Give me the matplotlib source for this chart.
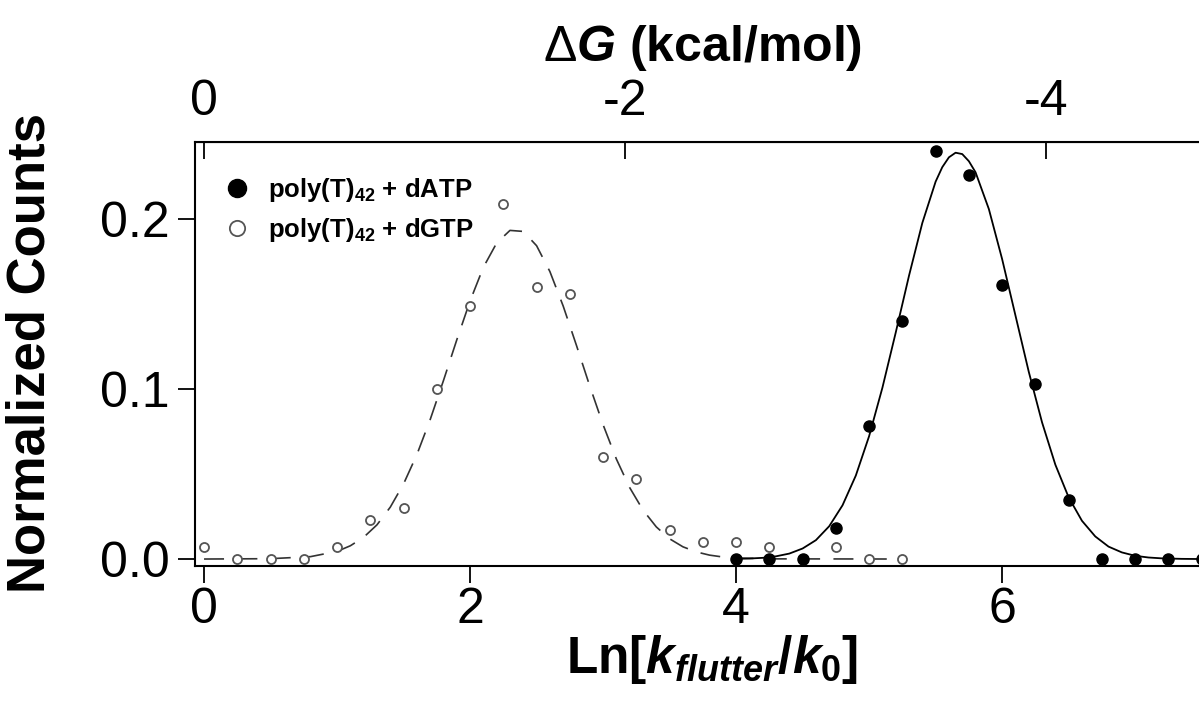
import matplotlib
matplotlib.use("Agg")
import matplotlib.pyplot as plt
from matplotlib.lines import Line2D

plt.rcParams['font.family'] = ['Liberation Sans', 'DejaVu Sans']
plt.rcParams['mathtext.fontset'] = 'custom'
plt.rcParams['mathtext.rm'] = 'Liberation Sans:bold'
plt.rcParams['mathtext.it'] = 'Liberation Sans:bold:italic'
plt.rcParams['mathtext.sf'] = 'Liberation Sans'

# histogram points (ln(k_flutter/k0), normalized counts)
datp_x = [4.0, 4.25, 4.5, 4.75, 5.0, 5.25, 5.5, 5.75, 6.0, 6.25, 6.5, 6.75, 7.0, 7.25, 7.5]
datp_y = [0.0, 0.0, 0.0, 0.018, 0.078, 0.140, 0.240, 0.226, 0.161, 0.103, 0.035, 0.0, 0.0, 0.0, 0.0]

dgtp_x = [0.0, 0.25, 0.5, 0.75, 1.0, 1.25, 1.5, 1.75, 2.0, 2.25, 2.5, 2.75, 3.0, 3.25,
          3.5, 3.75, 4.0, 4.25, 4.5, 4.75, 5.0, 5.25]
dgtp_y = [0.007, 0.0, 0.0, 0.0, 0.007, 0.023, 0.030, 0.100, 0.149, 0.209, 0.160, 0.156,
          0.060, 0.047, 0.017, 0.010, 0.010, 0.007, 0.0, 0.007, 0.0, 0.0]

# fit curves
datp_fit_x = [4.0, 4.1, 4.2, 4.3, 4.4, 4.5, 4.6, 4.7, 4.8, 4.9, 5.0, 5.1, 5.2, 5.3, 5.4,
              5.5, 5.55, 5.6, 5.65, 5.7, 5.75, 5.8, 5.9, 6.0, 6.1, 6.2, 6.3, 6.4, 6.5,
              6.6, 6.7, 6.8, 6.9, 7.0, 7.1, 7.2, 7.35, 7.5]
datp_fit_y = [0.0001, 0.0003, 0.0007, 0.0016, 0.0032, 0.0062, 0.0111, 0.0193, 0.0316,
              0.0491, 0.0723, 0.1008, 0.1332, 0.1667, 0.1977, 0.2220, 0.2305, 0.2363,
              0.2390, 0.2382, 0.2340, 0.2275, 0.2059, 0.1764, 0.1433, 0.1102, 0.0804,
              0.0555, 0.0363, 0.0225, 0.0133, 0.0073, 0.0039, 0.0019, 0.0009, 0.0004,
              0.0001, 0.0]

dgtp_fit_x = [0.0, 0.5, 0.8, 1.0, 1.1, 1.2, 1.3, 1.4, 1.5, 1.6, 1.7, 1.8, 1.9, 2.0, 2.1,
              2.2, 2.3, 2.4, 2.5, 2.6, 2.7, 2.8, 2.9, 3.0, 3.1, 3.2, 3.3, 3.4, 3.5, 3.6,
              3.7, 3.8, 3.9, 4.0, 4.3, 5.25]
dgtp_fit_y = [0.0, 0.0002, 0.0014, 0.0045, 0.0078, 0.0128, 0.0201, 0.0305, 0.0442, 0.0614,
              0.0820, 0.1050, 0.1289, 0.1518, 0.1716, 0.1859, 0.1933, 0.1927, 0.1843,
              0.1691, 0.1488, 0.1256, 0.1017, 0.0790, 0.0588, 0.0420, 0.0288, 0.0189,
              0.0119, 0.0072, 0.0042, 0.0023, 0.0012, 0.0006, 0.0001, 0.0]

kt = 0.632  # kcal/mol per ln unit

fig = plt.figure(figsize=(11.99, 7.13), dpi=100)
ax = fig.add_axes([195 / 1199, 1 - 566 / 713, 1 - 195 / 1199, (566 - 142) / 713])

fit2, = ax.plot(dgtp_fit_x, dgtp_fit_y, color='#333333', lw=1.2, zorder=2)
fit2.set_dashes((12, 8))
ax.plot(datp_fit_x, datp_fit_y, color='black', lw=1.3, zorder=2)
ax.plot(dgtp_x, dgtp_y, 'o', ms=6.5, mfc='white', mec='#555555', mew=1.3, zorder=3)
ax.plot(datp_x, datp_y, 'o', ms=8, mfc='black', mec='black', zorder=4)

ax.set_xlim(-0.068, 7.48)
ax.set_ylim(-0.0041, 0.2453)
ax.set_xticks([0, 2, 4, 6])
ax.set_yticks([0.0, 0.1, 0.2])
ax.set_yticklabels(['0.0', '0.1', '0.2'])
ax.tick_params(axis='both', direction='out', length=12, width=1.3, labelsize=36)
ax.tick_params(axis='x', pad=3)
ax.tick_params(axis='y', pad=6)
ax.spines['right'].set_visible(False)
for s in ['left', 'bottom', 'top']:
    ax.spines[s].set_linewidth(1.5)

top = ax.secondary_xaxis('top', functions=(lambda x: -kt * x, lambda g: -g / kt))
top.set_xticks([0, -2, -4])
top.set_xticklabels(['0', '-2', '-4'])
top.tick_params(direction='in', length=12, width=1.3, labelsize=36, pad=12)

fig.text(703 / 1199, 1 - 61 / 713, r'$\mathsf{\Delta}\mathit{G}$ (kcal/mol)',
         ha='center', va='baseline', fontsize=36, fontweight='bold')
fig.text(712 / 1199, 1 - 673 / 713, r'Ln[$\mathit{k_{flutter}}$/$\mathit{k}_{\mathit{0}}$]',
         ha='center', va='baseline', fontsize=37, fontweight='bold')
fig.text(31 / 1199, 1 - 353 / 713, 'Normalized Counts', rotation=90,
         ha='center', va='center', fontsize=38, fontweight='bold')

handles = [
    Line2D([], [], ls='none', marker='o', ms=13, mfc='black', mec='black'),
    Line2D([], [], ls='none', marker='o', ms=11, mfc='white', mec='#555555', mew=1.3),
]
labels = [r'poly(T)$_\mathregular{42}$ + dATP', r'poly(T)$_\mathregular{42}$ + dGTP']
ax.legend(handles, labels, loc='upper left', bbox_to_anchor=(224 / 1199, 1 - 176 / 713),
          bbox_transform=fig.transFigure, frameon=False, borderpad=0, borderaxespad=0,
          handlelength=1.0, handletextpad=0.7, labelspacing=0.45,
          prop={'family': ['Liberation Sans Narrow', 'Liberation Sans'],
                'weight': 'bold', 'size': 18.5})

plt.savefig('out.png', dpi=100)
